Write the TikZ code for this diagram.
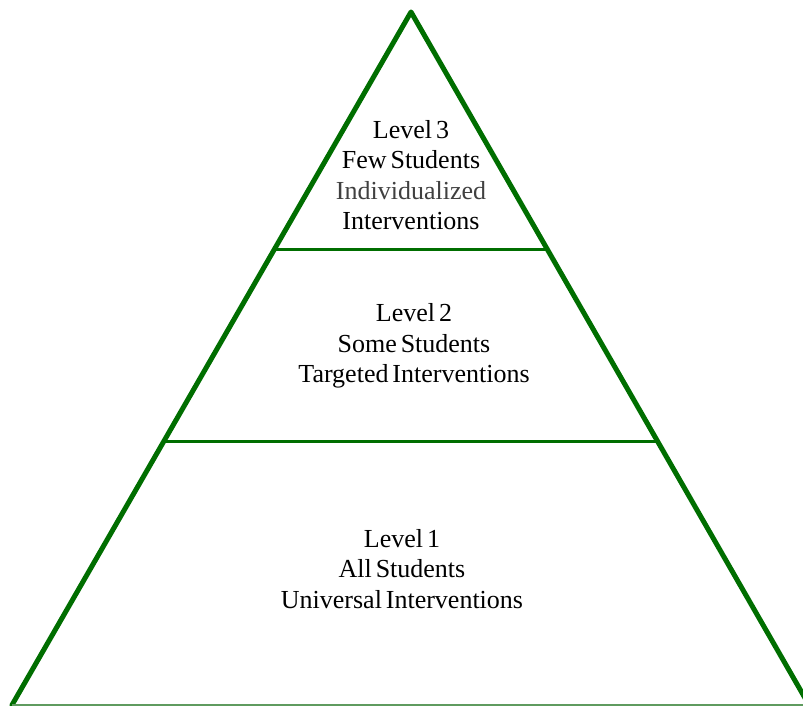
\documentclass[tikz,border=0pt]{standalone}
\usepackage{fontspec}
\setmainfont{Liberation Serif}
\usetikzlibrary{calc}

\definecolor{pyramidgreen}{RGB}{0,110,0}
\definecolor{basegreen}{RGB}{95,155,95}

\newcommand\levelfont{\fontsize{26}{30.5}\selectfont\spaceskip=0.15em plus 0.05em\relax}

\begin{document}
\begin{tikzpicture}[x=1pt,y=1pt]
    \tikzstyle{side}=[
        draw = pyramidgreen,
        line width = 5pt,
        line cap = round,
        line join = round
    ]
    \tikzstyle{tier}=[
        draw = pyramidgreen,
        line width = 3pt
    ]
    \tikzstyle{level}=[
        align = center,
        font = \levelfont
    ]

    \useasboundingbox (0,0) rectangle (803,706);

    % corners of the pyramid
    \coordinate (top) at (411,694);
    \coordinate (bl)  at (12,1);
    \coordinate (br)  at (809,1);

    % ends of the two dividing lines
    \coordinate (t3l) at ($(top)!0.3434!(bl)$);
    \coordinate (t3r) at ($(top)!0.3434!(br)$);
    \coordinate (t2l) at ($(top)!0.6205!(bl)$);
    \coordinate (t2r) at ($(top)!0.6205!(br)$);

    \draw[side] (bl) -- (top) -- (br);
    \draw[basegreen, line width=1.4pt] (bl) -- (br);
    \draw[tier] (t3l) -- (t3r);
    \draw[tier] (t2l) -- (t2r);

    \node[level] (l3) at (411,531) {Level 3\\Few Students\\{\color{black!75}Individualized}\\Interventions};
    \node[level] (l2) at (414,360) {Level 2\\Some Students\\Targeted Interventions};
    \node[level] (l1) at (402,137) {Level 1\\All Students\\Universal Interventions};
\end{tikzpicture}
\end{document}
